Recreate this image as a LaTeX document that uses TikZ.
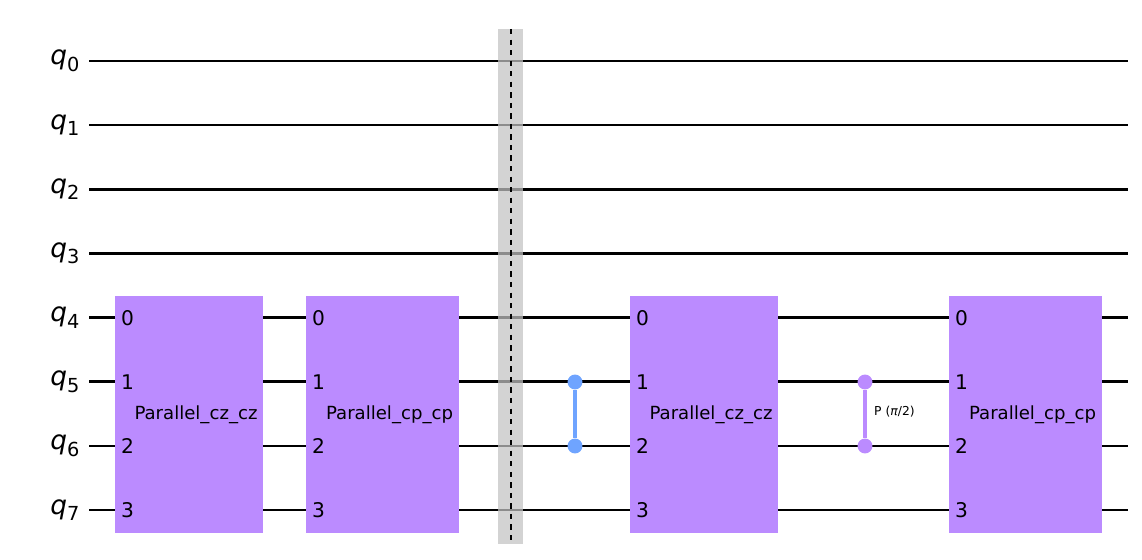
\documentclass[tikz,border=0pt]{standalone}
\usepackage{fontspec}
\setmainfont{DejaVu Sans}
\definecolor{gatepurple}{HTML}{BB8BFF}
\definecolor{czblue}{HTML}{6FA4FF}
\definecolor{barriergray}{HTML}{D3D3D3}
\tikzset{
  wire/.style={line width=1.5pt, black},
  gatebox/.style={fill=gatepurple, draw=none},
  dot/.style={circle, inner sep=0pt, minimum size=8.5pt},
  port/.style={font=\fontsize{11.5}{11.5}\selectfont, anchor=west},
}
\begin{document}
\begin{tikzpicture}[x=0.02cm, y=-0.02cm]
  \useasboundingbox (0,0) rectangle (1142,560);
  %wires and qubit labels
  \foreach \i in {0,...,7} {
    \node[font=\fontsize{15}{15}\selectfont] (q\i) at (65,61+64.14*\i) {\textit{q}\raisebox{-0.45ex}{\fontsize{11}{11}\selectfont\i}};
    \coordinate (ws\i) at (89,61+64.14*\i);
    \coordinate (we\i) at (1128,61+64.14*\i);
    \draw[wire] (ws\i) -- (we\i);
  }
  % barrier
  \fill[barriergray] (498,29) rectangle (523,544);
  \foreach \i in {0,...,7} \draw[line width=1.5pt, black!45] (498,61+64.14*\i) -- (523,61+64.14*\i);
  \draw[dashed, line width=0.6pt] (511,29) -- (511,544);
  % boxes
  \foreach \xa/\xb/\name [count=\k] in {115/263/Parallel\_cz\_cz, 306/459/Parallel\_cp\_cp, 630/778/Parallel\_cz\_cz, 949/1102/Parallel\_cp\_cp} {
    \fill[gatebox] (\xa,296) rectangle (\xb,533);
    \node[font=\fontsize{10.3}{10.3}\selectfont] (box\k) at ({(\xa+\xb)/2+7},415) {\name};
    \foreach \j in {0,...,3} \node[port] at (\xa,318+64.14*\j) {\j};
  }
  % cz gate
  \node[dot, fill=czblue] (cza) at (575,382) {};
  \node[dot, fill=czblue] (czb) at (575,446) {};
  \draw[czblue, line width=2pt] (cza) -- (czb);
  % cp gate
  \node[dot, fill=gatepurple] (cpa) at (865,382) {};
  \node[dot, fill=gatepurple] (cpb) at (865,446) {};
  \draw[gatepurple, line width=2pt] (cpa) -- (cpb);
  \node[font=\fontsize{7}{7}\selectfont, anchor=west] (cplabel) at (868,412) {P (\textit{π}/2)};
\end{tikzpicture}
\end{document}
